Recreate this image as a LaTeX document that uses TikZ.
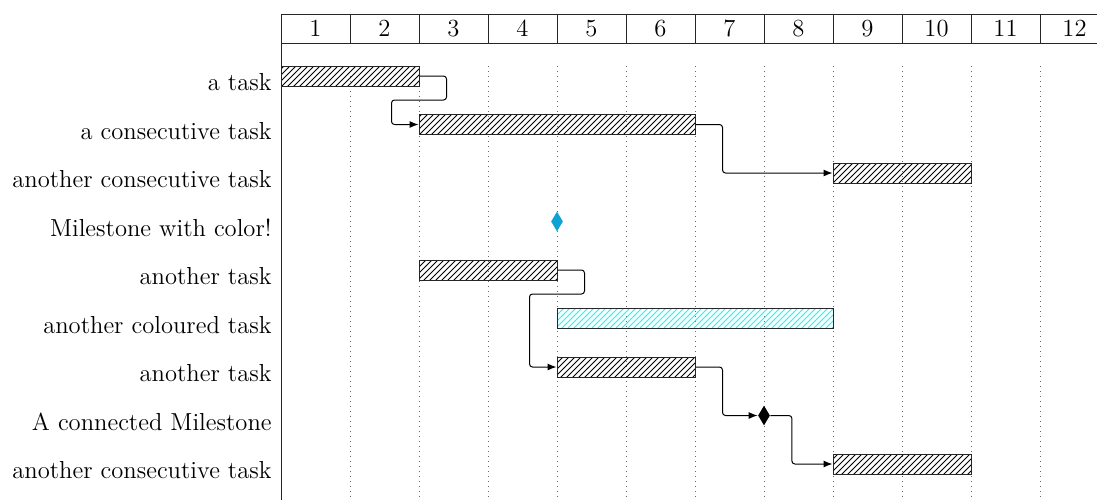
\documentclass[tikz,border=0pt]{standalone}
\usetikzlibrary{patterns,shapes.geometric,arrows.meta}
\definecolor{milecol}{RGB}{14,162,214}
\begin{document}
\begin{tikzpicture}[x=0.5pt,y=-0.5pt,
  font=\fontsize{12.3}{14}\selectfont,
  frame/.style={draw=black!85,line width=0.5pt},
  grid/.style={draw=black!60,dotted,line width=0.5pt},
  bar/.style={draw=black!85,line width=0.5pt,pattern=north east lines,minimum height=10pt,inner sep=0pt,anchor=center},
  cbar/.style={bar,pattern color=cyan},
  mile/.style={diamond,fill=black,draw=none,minimum width=6pt,minimum height=10pt,inner sep=0pt},
  conn/.style={draw=black,line width=0.5pt,rounded corners=1.5pt,-{Latex[length=4.5pt,width=3.5pt]}},
  lbl/.style={anchor=mid east,inner sep=0pt},
  hd/.style={anchor=center,inner sep=0pt}]
\useasboundingbox (0,0) rectangle (1097,500);
% grid
\foreach \x in {350,419,...,1040} \draw[grid] (\x,66) -- (\x,500);
% header
\draw[frame] (281,14) -- (1097,14) (281,43) -- (1097,43) (281,14) -- (281,500);
\foreach \x in {350,419,...,1040} \draw[frame] (\x,14) -- (\x,43);
\foreach \i in {1,...,12} \node[hd] (h\i) at ({281+69*(\i-0.5)},28.5) {\i};
% labels
\node[lbl] (l1) at (272,86.5) {a task};
\node[lbl] (l2) at (272,135) {a consecutive task};
\node[lbl] (l3) at (272,183.5) {another consecutive task};
\node[lbl] (l4) at (272,232) {Milestone with color!};
\node[lbl] (l5) at (272,280.5) {another task};
\node[lbl] (l6) at (272,329) {another coloured task};
\node[lbl] (l7) at (272,377.5) {another task};
\node[lbl] (l8) at (272,426) {A connected Milestone};
\node[lbl] (l9) at (272,474.5) {another consecutive task};
% bars
\node[bar,minimum width=69pt] (b1) at (350,76) {};
\node[bar,minimum width=138pt] (b2) at (557,124.5) {};
\node[bar,minimum width=69pt] (b3) at (902,173) {};
\node[mile,fill=milecol] (m1) at (557,221.5) {};
\node[bar,minimum width=69pt] (b4) at (488,270) {};
\node[cbar,minimum width=138pt] (b5) at (695,318.5) {};
\node[bar,minimum width=69pt] (b6) at (626,367) {};
\node[mile] (m2) at (764,415.5) {};
\node[bar,minimum width=69pt] (b7) at (902,464) {};
% connectors
\draw[conn] (b1.east) -- ++(27,0) -- ++(0,24) -- ++(-55,0) |- (b2.west);
\draw[conn] (b2.east) -- ++(27,0) |- (b3.west);
\draw[conn] (b4.east) -- ++(27,0) -- ++(0,24) -- ++(-55,0) |- (b6.west);
\draw[conn] (b6.east) -- ++(27,0) |- (m2.west);
\draw[conn] (m2.east) -- ++(21.5,0) |- (b7.west);
\end{tikzpicture}
\end{document}
